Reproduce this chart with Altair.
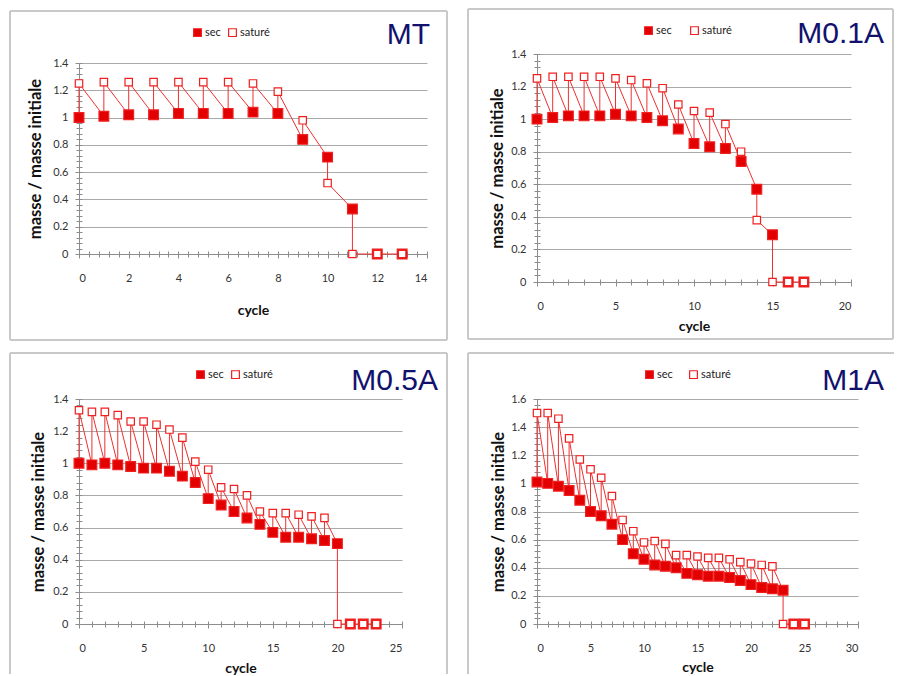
import altair as alt
import pandas as pd
import numpy as np

SERIES = ["sec", "saturé"]
NAMES = ["MT", "M0.1A", "M0.5A", "M1A"]

MT_SEC = [1.00, 1.01, 1.02, 1.02, 1.03, 1.03, 1.03, 1.04, 1.03, 0.84, 0.71, 0.33, 0, 0]
MT_SAT = [1.25, 1.26, 1.26, 1.26, 1.26, 1.26, 1.26, 1.25, 1.19, 0.98, 0.52, 0, 0, 0]

M01_SEC = [1.00, 1.01, 1.02, 1.02, 1.02, 1.03, 1.02, 1.01, 0.99, 0.94, 0.85, 0.83, 0.82, 0.74, 0.57, 0.29, 0, 0]
M01_SAT = [1.25, 1.26, 1.26, 1.26, 1.26, 1.25, 1.24, 1.22, 1.19, 1.09, 1.05, 1.04, 0.97, 0.80, 0.38, 0, 0, 0]

M05_SEC = [1.00, 0.99, 1.00, 0.99, 0.98, 0.97, 0.97, 0.95, 0.92, 0.88, 0.78, 0.74, 0.70, 0.66,
           0.62, 0.57, 0.54, 0.54, 0.53, 0.52, 0.50, 0, 0, 0]
M05_SAT = [1.33, 1.32, 1.32, 1.30, 1.26, 1.26, 1.24, 1.21, 1.16, 1.01, 0.96, 0.85, 0.84, 0.80,
           0.70, 0.69, 0.69, 0.68, 0.67, 0.66, 0, 0, 0, 0]

M1_SEC = [1.01, 1.00, 0.98, 0.95, 0.88, 0.80, 0.77, 0.71, 0.60, 0.50, 0.46, 0.42, 0.41, 0.40,
          0.36, 0.35, 0.34, 0.34, 0.33, 0.31, 0.28, 0.26, 0.25, 0.24, 0, 0]
M1_SAT = [1.50, 1.50, 1.46, 1.32, 1.17, 1.10, 1.04, 0.91, 0.74, 0.66, 0.58, 0.59, 0.57, 0.49,
          0.49, 0.48, 0.47, 0.47, 0.46, 0.44, 0.43, 0.42, 0.41, 0, 0, 0]

X_TICKS_MT = [0, 2, 4, 6, 8, 10, 12, 14]
X_TICKS_M01 = [0, 5, 10, 15, 20]
X_TICKS_M05 = [0, 5, 10, 15, 20, 25]
X_TICKS_M1 = [0, 5, 10, 15, 20, 25, 30]
Y_TICKS_14 = [0, 0.2, 0.4, 0.6, 0.8, 1, 1.2, 1.4]
Y_TICKS_16 = [0, 0.2, 0.4, 0.6, 0.8, 1, 1.2, 1.4, 1.6]

X_TITLE = "cycle"
Y_TITLE = "masse / masse initiale"

RED_FILL = "#e30000"
RED_STROKE = "#ef2020"
RED_LINE = "#ee3030"
BOX = "#c9c9c9"
NAVY = "#12126e"
AXIS_GRAY = "#8c8c8c"
GRID = "#a9a9a9"

ONE = pd.DataFrame({"k": [0]})


def make_df(sec, sat):
    rows = []
    for i, (a, b) in enumerate(zip(sec, sat)):
        rows.append(dict(cycle=i, v=a, series="sec", seq=2 * i, z=0))
        rows.append(dict(cycle=i, v=b, series="saturé", seq=2 * i + 1, z=1))
    return pd.DataFrame(rows)


def hrule(x1, x2, y):
    return alt.Chart(ONE).mark_rule(color=BOX, strokeWidth=2).encode(
        x=alt.value(x1), x2=alt.value(x2), y=alt.value(y))


def vrule(x, y1, y2):
    return alt.Chart(ONE).mark_rule(color=BOX, strokeWidth=2).encode(
        x=alt.value(x), y=alt.value(y1), y2=alt.value(y2))


def panel(name, sec, sat, xticks, xminor, yticks, W, H, box, title_xy, leg_xy, colpad,
          xtpad, ytpad, ytop=0):
    df = make_df(sec, sat)
    xmax = xticks[-1]
    ymax = yticks[-1]
    xs = alt.Scale(domain=[0, xmax], nice=False, zero=False)
    ys = alt.Scale(domain=[0, ymax], nice=False, range=[H, ytop])
    x_minor_vals = [float(v) for v in np.round(np.arange(0, xmax + 1e-9, xminor), 3)]
    y_minor_vals = [float(v) for v in np.round(np.arange(0, ymax + 1e-9, 0.04), 3)]

    minor_x = alt.Axis(values=x_minor_vals, orient="bottom", offset=-3, tickSize=6,
                       domain=False, labels=False, grid=False, title=None,
                       tickColor=AXIS_GRAY, tickWidth=1)
    minor_y = alt.Axis(values=y_minor_vals, orient="left", offset=-3, tickSize=6,
                       domain=False, labels=False, grid=False, title=None,
                       tickColor=AXIS_GRAY, tickWidth=1)
    major_x = alt.Axis(values=xticks, orient="bottom", format="d", tickSize=4,
                       labelPadding=14, grid=False, title=X_TITLE, titlePadding=xtpad,
                       titleFontSize=14)
    yargs = dict(values=yticks, orient="left", format="~g", tickSize=4,
                 labelPadding=7, grid=True, title=Y_TITLE, titlePadding=ytpad,
                 titleFontSize=16.5)
    if ytop:
        yargs["titleY"] = (H + ytop) / 2
    major_y = alt.Axis(**yargs)

    line = alt.Chart(df).mark_line(color=RED_LINE, strokeWidth=1).encode(
        x=alt.X("cycle:Q", scale=xs, axis=minor_x),
        y=alt.Y("v:Q", scale=ys, axis=minor_y),
        order=alt.Order("seq:Q"),
    )
    pts = alt.Chart(df).mark_square(opacity=1, strokeWidth=1.2).encode(
        x=alt.X("cycle:Q", scale=xs, axis=major_x),
        y=alt.Y("v:Q", scale=ys, axis=major_y),
        fill=alt.Fill("series:N",
                      scale=alt.Scale(domain=SERIES, range=[RED_FILL, "#ffffff"]),
                      legend=alt.Legend(title=None, orient="none", legendX=leg_xy[0],
                                        legendY=leg_xy[1], direction="horizontal",
                                        symbolType="square", symbolSize=60,
                                        symbolStrokeColor=RED_STROKE, symbolStrokeWidth=1.2,
                                        labelFont="Lato", labelFontSize=11,
                                        labelColor="#222222", labelOffset=2,
                                        columnPadding=colpad)),
        size=alt.condition("datum.series == 'sec'", alt.value(95), alt.value(55)),
        stroke=alt.value(RED_STROKE),
        order=alt.Order("z:Q"),
    )
    title = alt.Chart(pd.DataFrame({"t": [name]})).mark_text(
        align="right", baseline="alphabetic", font="Liberation Sans", fontSize=30,
        color=NAVY).encode(x=alt.value(title_xy[0]), y=alt.value(title_xy[1]), text="t:N")

    l, r, t, b, bottom_closed, right_closed = box
    layers = [hrule(l, r, t), vrule(l, t, b)]
    if right_closed:
        layers.append(vrule(r, t, b))
    if bottom_closed:
        layers.append(hrule(l, r, b))
    layers += [line, pts, title]
    return alt.layer(*layers).properties(width=W, height=H).resolve_axis(
        x="independent", y="independent")


p_mt = panel(NAMES[0], MT_SEC, MT_SAT, X_TICKS_MT, 0.4, Y_TICKS_14, 348, 200,
             (-69, 368, -43, 286, True, True), (351, -10), (113, -27), 5, 20, 9, ytop=9)
p_m01 = panel(NAMES[1], M01_SEC, M01_SAT, X_TICKS_M01, 1, Y_TICKS_14, 314, 228,
              (-69, 356, -45, 285, True, True), (347, -11), (106, -29), 16, 8, 5)
p_m05 = panel(NAMES[2], M05_SEC, M05_SAT, X_TICKS_M05, 1, Y_TICKS_14, 323, 225,
              (-69, 368, -46, 275, False, True), (359, -9), (116, -30), 5, 8, 6)
p_m1 = panel(NAMES[3], M1_SEC, M1_SAT, X_TICKS_M1, 1, Y_TICKS_16, 321, 225,
             (-69, 357, -46, 275, False, False), (347, -9), (107, -30), 14, 7.5, 4)


def indep(c):
    return c.resolve_scale(fill="independent").resolve_legend(fill="independent")


row1 = indep(alt.hconcat(p_mt, p_m01, spacing=19))
row2 = indep(alt.hconcat(p_m05, p_m1, spacing=19))

chart = indep(alt.vconcat(row1, row2, spacing=11)).properties(
    padding={"left": 1, "top": 0, "right": 0, "bottom": 0}
).configure_view(stroke=None).configure_axis(
    labelFont="Lato", labelFontSize=11, labelColor="#333333",
    titleFont="Lato", titleFontWeight="bold", titleColor="#111111",
    domainColor=AXIS_GRAY, tickColor=AXIS_GRAY, gridColor=GRID, gridWidth=1,
)

chart.save("out.html", embed_options={"renderer": "svg", "actions": False})
